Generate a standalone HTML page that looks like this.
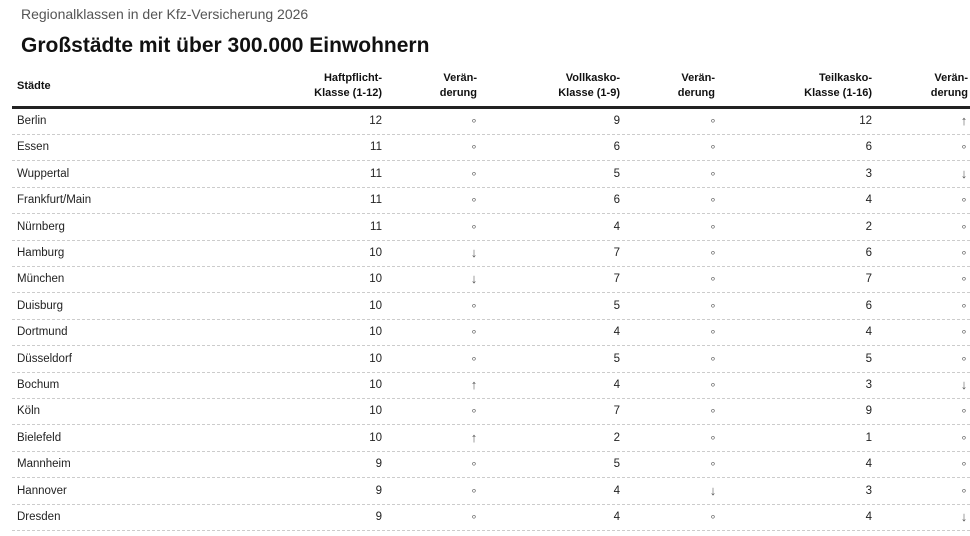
<!DOCTYPE html>
<html><head><meta charset="utf-8"><style>
body{margin:0;width:970px;height:536px;background:#fff;font-family:"Liberation Sans",Arial,sans-serif;color:#222;position:relative;overflow:hidden}
.sub{position:absolute;left:21px;top:6px;font-size:14px;color:#555}
.title{position:absolute;left:21px;top:34px;font-size:21px;font-weight:bold;color:#111}
.h{position:absolute;font-size:11px;font-weight:bold;line-height:15px;text-align:right;color:#111}
.rule{position:absolute;left:12px;right:0;top:106px;height:3px;background:#222}
.row{position:absolute;left:12px;right:0;height:26px;border-bottom:1px dashed #ccc;font-size:11.5px}
.row span{position:absolute;top:7px}
.c{left:5px}
.n1{right:588px}.v1{left:450px;width:24px;text-align:center}
.n2{right:350px}.v2{left:689px;width:24px;text-align:center}
.n3{right:98px}.v3{left:942px;width:20px;text-align:center}
.o{color:#555;font-size:11px;top:6px!important}
.a{color:#555;font-size:13px;top:5px!important}
</style></head><body>
<div class="sub">Regionalklassen in der Kfz-Versicherung 2026</div>
<div class="title">Großstädte mit über 300.000 Einwohnern</div>
<div class="h" style="left:17px;top:79px;text-align:left">Städte</div>
<div class="h" style="right:588px;top:71px">Haftpflicht-<br>Klasse (1-12)</div>
<div class="h" style="right:493px;top:71px">Verän-<br>derung</div>
<div class="h" style="right:350px;top:71px">Vollkasko-<br>Klasse (1-9)</div>
<div class="h" style="right:255px;top:71px">Verän-<br>derung</div>
<div class="h" style="right:98px;top:71px">Teilkasko-<br>Klasse (1-16)</div>
<div class="h" style="right:2px;top:71px">Verän-<br>derung</div>
<div class="rule"></div>
<div id="t"></div>
<script>
var d=[["Berlin",12,"o",9,"o",12,"u"],["Essen",11,"o",6,"o",6,"o"],["Wuppertal",11,"o",5,"o",3,"d"],["Frankfurt/Main",11,"o",6,"o",4,"o"],["Nürnberg",11,"o",4,"o",2,"o"],["Hamburg",10,"d",7,"o",6,"o"],["München",10,"d",7,"o",7,"o"],["Duisburg",10,"o",5,"o",6,"o"],["Dortmund",10,"o",4,"o",4,"o"],["Düsseldorf",10,"o",5,"o",5,"o"],["Bochum",10,"u",4,"o",3,"d"],["Köln",10,"o",7,"o",9,"o"],["Bielefeld",10,"u",2,"o",1,"o"],["Mannheim",9,"o",5,"o",4,"o"],["Hannover",9,"o",4,"d",3,"o"],["Dresden",9,"o",4,"o",4,"d"]];
function s(x,c){return x=="o"?'<span class="'+c+' o">∘</span>':'<span class="'+c+' a">'+(x=="u"?"↑":"↓")+'</span>';}
var h="";d.forEach(function(r,i){h+='<div class="row" style="top:'+(108+i*26.4)+'px"><span class="c">'+r[0]+'</span><span class="n1">'+r[1]+'</span>'+s(r[2],"v1")+'<span class="n2">'+r[3]+'</span>'+s(r[4],"v2")+'<span class="n3">'+r[5]+'</span>'+s(r[6],"v3")+'</div>';});
document.getElementById("t").innerHTML=h;
</script>
</body></html>
